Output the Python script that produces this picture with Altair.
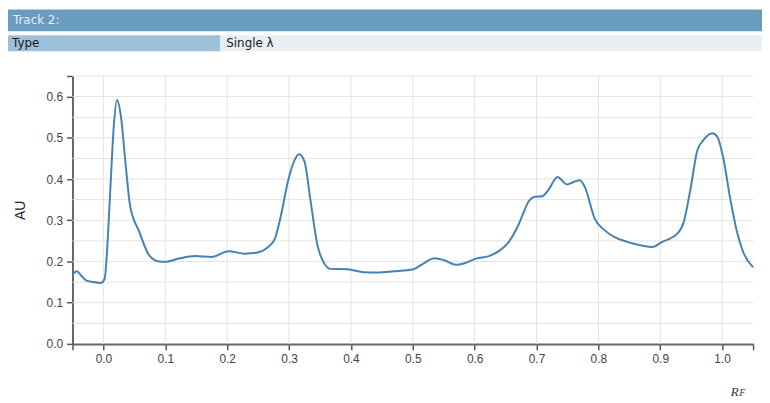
import altair as alt
import pandas as pd

# ---- chromatogram trace (Rf, AU) ----
rf = [-0.050, -0.043, -0.036, -0.028, -0.017, -0.004, 0.002, 0.007, 0.012, 0.0165,
      0.022, 0.028, 0.036, 0.043, 0.058, 0.074, 0.090, 0.100, 0.122, 0.148,
      0.175, 0.202, 0.2285, 0.247, 0.266, 0.277, 0.287, 0.298, 0.309, 0.3165,
      0.325, 0.335, 0.346, 0.357, 0.367, 0.394, 0.421, 0.442, 0.469, 0.501,
      0.517, 0.535, 0.551, 0.570, 0.586, 0.602, 0.623, 0.639, 0.655, 0.669,
      0.678, 0.687, 0.698, 0.709, 0.719, 0.734, 0.749, 0.760, 0.770, 0.778,
      0.794, 0.810, 0.826, 0.848, 0.869, 0.888, 0.901, 0.928, 0.938, 0.949,
      0.960, 0.970, 0.984, 0.992, 1.002, 1.013, 1.024, 1.034, 1.050]
au = [0.168, 0.176, 0.166, 0.154, 0.150, 0.148, 0.158, 0.255, 0.400, 0.523,
      0.592, 0.555, 0.434, 0.336, 0.272, 0.215, 0.200, 0.199, 0.207, 0.213,
      0.211, 0.225, 0.219, 0.221, 0.235, 0.255, 0.312, 0.393, 0.446, 0.460,
      0.442, 0.345, 0.239, 0.195, 0.182, 0.181, 0.174, 0.173, 0.176, 0.181,
      0.195, 0.208, 0.203, 0.192, 0.197, 0.207, 0.213, 0.225, 0.247, 0.283,
      0.315, 0.345, 0.357, 0.358, 0.373, 0.405, 0.387, 0.393, 0.397, 0.381,
      0.304, 0.276, 0.259, 0.247, 0.239, 0.235, 0.246, 0.268, 0.296, 0.377,
      0.470, 0.495, 0.511, 0.503, 0.450, 0.353, 0.272, 0.223, 0.186]

x_ticks = [0.0, 0.1, 0.2, 0.3, 0.4, 0.5, 0.6, 0.7, 0.8, 0.9, 1.0]
y_ticks = [0.0, 0.1, 0.2, 0.3, 0.4, 0.5, 0.6]
y_grid = [0.05, 0.1, 0.15, 0.2, 0.25, 0.3, 0.35, 0.4, 0.45, 0.5, 0.55, 0.6, 0.65]
x_domain = [-0.05, 1.05]
y_domain = [0.0, 0.65]

# ---- header table text ----
track_title = "Track 2:"
row_key = "Type"
row_value = "Single λ"

trace = pd.DataFrame({"rf": rf, "au": au})
xs = alt.Scale(domain=x_domain, nice=False, zero=False)
ys = alt.Scale(domain=y_domain, nice=False, zero=False)

x_axis = alt.Axis(values=[x_domain[0]] + x_ticks + [x_domain[1]],
                  labelExpr="datum.value < -0.01 || datum.value > 1.01 ? '' : format(datum.value, '.1f')",
                  grid=False, title="R", titleFont="Liberation Serif", titleFontStyle="italic",
                  titleFontWeight="normal", titleFontSize=13, titleColor="#333",
                  titleX=667, titleY=52, titleAlign="center", titleBaseline="alphabetic",
                  labelFont="Liberation Sans", labelFontSize=12, labelColor="#444",
                  labelPadding=4, tickSize=6, tickColor="#555", tickWidth=1.5,
                  domainColor="#666", domainWidth=2, labelFlush=False)
y_axis = alt.Axis(values=y_ticks + [y_domain[1]],
                  labelExpr="datum.value > 0.62 ? '' : format(datum.value, '.1f')",
                  grid=False, title="AU", titleFont="Liberation Sans", titleFontSize=14,
                  titleFontWeight="normal", titleColor="#222", titlePadding=19,
                  labelFont="Liberation Sans", labelFontSize=12, labelColor="#444",
                  labelPadding=4, tickSize=6, tickColor="#555", tickWidth=1.5,
                  domainColor="#666", domainWidth=2, labelFlush=False)

one = pd.DataFrame({"k": [0]})


def box(x0, x1, y0, y1, fill):
    return alt.Chart(one).mark_rect(color=fill).encode(
        x=alt.value(x0), x2=alt.value(x1), y=alt.value(y0), y2=alt.value(y1))


def label(txt, x, y, color):
    return alt.Chart(one).mark_text(text=txt, align="left", baseline="middle",
                                    font="DejaVu Sans", fontSize=12, color=color).encode(
        x=alt.value(x), y=alt.value(y))


header = [
    box(-65, 695, -67, -45, "#6a9cc0"),
    box(-65, 149, -41, -25, "#9ec0d8"),
    box(149, 695, -41, -25, "#e9eff3"),
    label(track_title, -60, -56, "#e6eef5"),
    label(row_key, -61, -33, "#1a1a1a"),
    label(row_value, 155, -33, "#1a1a1a"),
]

hgrid = alt.Chart(pd.DataFrame({"au": y_grid})).mark_rule(color="#e3e3e3", strokeWidth=1).encode(
    y=alt.Y("au:Q", scale=ys, axis=y_axis))
vgrid = alt.Chart(pd.DataFrame({"rf": x_ticks})).mark_rule(color="#e3e3e3", strokeWidth=1).encode(
    x=alt.X("rf:Q", scale=xs, axis=x_axis))

line = alt.Chart(trace).mark_line(color="steelblue", strokeWidth=2, interpolate="monotone").encode(
    x=alt.X("rf:Q", scale=xs, axis=x_axis),
    y=alt.Y("au:Q", scale=ys, axis=y_axis),
)

sub = alt.Chart(one).mark_text(
    text="F", font="Liberation Serif", fontStyle="italic", fontSize=10, color="#333",
    align="left", baseline="alphabetic").encode(x=alt.value(672), y=alt.value(323))

chart = alt.layer(hgrid, vgrid, line, sub, *header).properties(
    width=686, height=270,
    padding={"left": 0, "top": 0, "right": 0, "bottom": 0},
).configure_view(stroke=None)

chart.save("out.html", embed_options={"renderer": "svg", "actions": False})
